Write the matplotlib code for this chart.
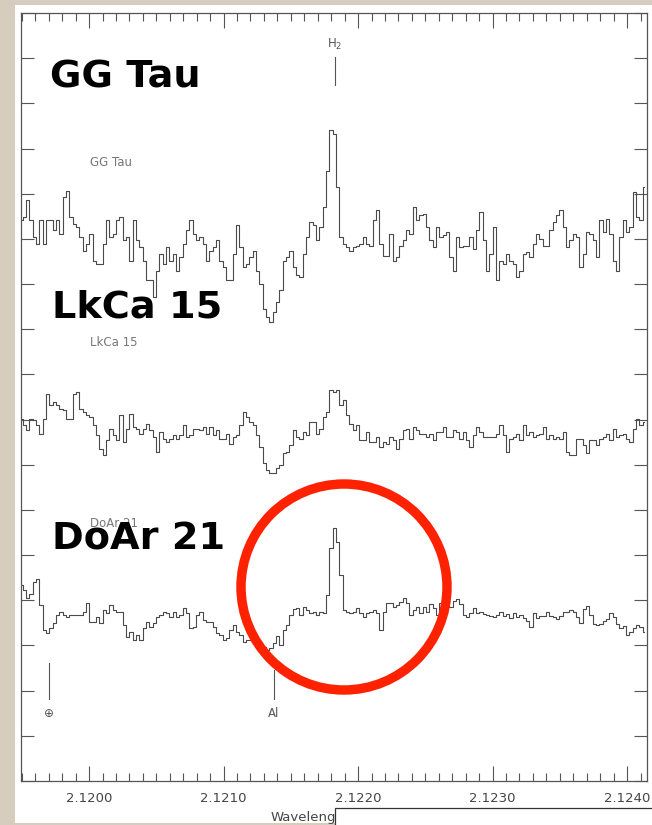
import numpy as np
import matplotlib.pyplot as plt
from matplotlib.patches import Rectangle, Ellipse
from matplotlib.ticker import MultipleLocator, FormatStrFormatter

# Offset spectra around the H2 1-0 S(1) line (flux + vertical offset)
wl_start, wl_end = 2.119494, 2.124128

gg_tau = [
    12.41, 12.48, 12.85, 12.41, 12.04, 11.89, 12.41, 11.89, 12.41, 12.41,
    12.19, 12.41, 12.11, 12.92, 13.07, 12.48, 12.33, 12.26, 12.04, 11.74,
    11.89, 12.11, 11.52, 11.45, 11.45, 11.89, 12.41, 12.04, 12.11, 12.41,
    12.48, 11.97, 12.04, 11.52, 12.41, 11.97, 11.82, 11.52, 11.08, 11.08,
    10.71, 11.30, 11.67, 11.45, 11.82, 11.52, 11.67, 11.30, 11.60, 11.89,
    12.19, 12.41, 12.11, 11.97, 12.04, 11.89, 11.52, 11.74, 11.82, 11.97,
    11.52, 11.38, 11.08, 11.08, 11.67, 12.30, 11.82, 11.38, 11.45, 11.60,
    11.74, 11.30, 11.01, 10.45, 10.27, 10.16, 10.38, 10.60, 10.86, 11.52,
    11.60, 11.74, 11.38, 11.19, 11.15, 11.67, 12.04, 12.37, 12.30, 11.97,
    12.26, 12.70, 13.51, 14.40, 14.33,
    13.15, 12.04, 11.89, 11.82, 11.74, 11.82, 11.85, 11.89, 12.04, 11.89,
    11.85, 12.41, 12.63, 11.89, 11.63, 11.63, 12.11, 11.52, 11.60, 11.85,
    11.97, 12.19, 12.11, 12.70, 12.41, 12.52, 12.56, 12.26, 11.97, 11.82,
    12.26, 12.04, 12.08, 12.15, 11.60, 11.30, 12.04, 11.82, 11.85, 11.85,
    12.04, 11.78, 12.19, 12.59, 11.97, 11.30, 11.67, 12.26, 11.08, 11.52,
    11.45, 11.67, 11.52, 11.45, 11.15, 11.30, 11.67, 11.71, 11.60, 11.89,
    12.11, 12.00, 11.85, 11.85, 12.19, 12.37, 12.52, 12.63, 12.26, 11.82,
    11.97, 12.11, 12.04, 11.38, 11.67, 12.15, 12.11, 11.97, 11.60, 12.41,
    12.15, 12.44, 12.11, 11.52, 11.30, 12.04, 12.41, 12.15, 12.26, 13.03,
    12.48, 12.41, 13.15,
]

lkca_15 = [
    8.02, 7.87, 7.76, 8.02, 7.98, 7.87, 7.69, 8.02, 8.57, 8.32,
    8.39, 8.32, 8.24, 8.21, 8.02, 8.02, 8.57, 8.61, 8.24, 8.17,
    8.10, 8.06, 7.87, 7.65, 7.36, 7.21, 7.54, 7.80, 7.65, 7.54,
    8.10, 7.51, 7.80, 8.13, 7.84, 7.80, 7.69, 7.80, 7.91, 7.76,
    7.62, 7.28, 7.73, 7.58, 7.51, 7.58, 7.65, 7.58, 7.65, 7.87,
    7.62, 7.65, 7.80, 7.80, 7.76, 7.84, 7.69, 7.84, 7.65, 7.76,
    7.58, 7.58, 7.69, 7.47, 7.62, 7.65, 7.87, 8.17, 8.06, 7.95,
    7.87, 7.65, 7.39, 7.03, 6.88, 6.81, 6.81, 6.92, 6.99, 7.25,
    7.28, 7.43, 7.76, 7.62, 7.58, 7.73, 7.65, 7.95, 7.95, 7.69,
    7.80, 8.06, 8.17, 8.65, 8.61, 8.65, 8.32, 8.43, 8.10, 7.91,
    7.76, 7.87, 7.54, 7.54, 7.73, 7.51, 7.51, 7.62, 7.39, 7.51,
    7.47, 7.62, 7.54, 7.36, 7.58, 7.76, 7.80, 7.58, 7.84, 7.76,
    7.69, 7.69, 7.62, 7.69, 7.54, 7.73, 7.73, 7.84, 7.62, 7.62,
    7.76, 7.73, 7.58, 7.73, 7.54, 7.39, 7.65, 7.84, 7.73, 7.62,
    7.62, 7.62, 7.62, 7.69, 7.87, 7.65, 7.28, 7.58, 7.62, 7.69,
    7.54, 7.87, 7.65, 7.73, 7.62, 7.65, 7.69, 7.84, 7.58, 7.65,
    7.58, 7.62, 7.58, 7.73, 7.28, 7.21, 7.21, 7.58, 7.58, 7.43,
    7.25, 7.54, 7.54, 7.43, 7.58, 7.62, 7.69, 7.54, 7.80, 7.62,
    7.65, 7.69, 7.58, 7.51, 7.80, 8.02, 7.87, 7.95,
]

doar_21 = [
    4.34, 4.23, 4.04, 4.15, 4.41, 4.48, 3.89, 3.34, 3.27, 3.38,
    3.49, 3.67, 3.75, 3.67, 3.64, 3.67, 3.67, 3.67, 3.67, 3.75,
    3.93, 3.53, 3.53, 3.64, 3.49, 3.78, 3.71, 3.89, 3.78, 3.75,
    3.75, 3.45, 3.19, 3.30, 3.12, 3.23, 3.12, 3.38, 3.53, 3.41,
    3.49, 3.64, 3.67, 3.75, 3.71, 3.64, 3.75, 3.64, 3.67, 3.82,
    3.71, 3.38, 3.41, 3.67, 3.75, 3.56, 3.53, 3.53, 3.41, 3.27,
    3.23, 3.12, 3.16, 3.34, 3.45, 3.30, 3.24, 3.08, 3.12, 3.12,
    3.05, 3.16, 3.01, 2.97, 2.90, 2.95, 3.05, 3.22, 3.01, 3.34,
    3.45, 3.67, 3.81, 3.83, 3.67, 3.86, 3.78, 3.71, 3.75, 3.67,
    3.73, 3.71, 4.12, 5.15, 5.60, 5.30, 4.56, 3.78, 3.75, 3.71,
    3.75, 3.82, 3.71, 3.64, 3.71, 3.75, 3.78, 3.71, 3.34, 3.75,
    3.93, 3.93, 3.86, 3.89, 3.97, 4.04, 3.93, 3.67, 3.78, 3.86,
    3.71, 3.86, 3.75, 3.91, 3.82, 3.67, 3.93, 3.82, 3.89, 3.86,
    3.98, 4.03, 3.91, 3.67, 3.64, 3.71, 3.82, 3.71, 3.75, 3.69,
    3.67, 3.66, 3.64, 3.67, 3.75, 3.66, 3.69, 3.60, 3.71, 3.64,
    3.67, 3.61, 3.54, 3.41, 3.71, 3.60, 3.65, 3.66, 3.75, 3.65,
    3.64, 3.58, 3.66, 3.75, 3.75, 3.78, 3.75, 3.64, 3.49, 3.81,
    3.88, 3.67, 3.47, 3.45, 3.47, 3.54, 3.58, 3.71, 3.64, 3.47,
    3.39, 3.44, 3.23, 3.29, 3.38, 3.45, 3.41, 3.30,
]

star_names = ['GG Tau', 'LkCa 15', 'DoAr 21']
name_y = [13.69, 9.71, 5.71]

# line identifications: label, wavelength, tick bottom/top, label height
line_labels = ['H$_2$', '\u2295', 'Al']
line_wl = [2.121829, 2.119703, 2.121375]
line_y0 = [15.40, 1.81, 1.81]
line_y1 = [16.02, 2.61, 2.46]
label_y = [16.30, 1.50, 1.50]

fig = plt.figure(figsize=(6.52, 8.25), dpi=100)
fig.patch.set_facecolor('#d6cdbf')

# white page behind the plot
fig.add_artist(Rectangle((15 / 652, 2 / 825), 1.0, 818 / 825, transform=fig.transFigure,
                         facecolor='white', edgecolor='none', zorder=-1))

ax = fig.add_axes([21 / 652, 44 / 825, 625.7 / 652, 768 / 825])
ax.set_facecolor('white')

for flux in (gg_tau, lkca_15, doar_21):
    wl = np.linspace(wl_start, wl_end, len(flux))
    ax.step(wl, flux, where='mid', color='#4a4a4a', lw=0.8)

for name, y in zip(star_names, name_y):
    ax.text(2.120007, y, name, fontsize=8.5, color='#777777', va='center', ha='left')

for lab, w, y0, y1, ly in zip(line_labels, line_wl, line_y0, line_y1, label_y):
    ax.plot([w, w], [y0, y1], color='#555555', lw=0.8)
    ax.text(w, ly, lab, fontsize=8.5, color='#555555', ha='center', va='center')

ax.set_xlim(2.119494, 2.124146)
ax.set_ylim(0, 17)
ax.xaxis.set_major_locator(MultipleLocator(0.001))
ax.xaxis.set_minor_locator(MultipleLocator(0.0001))
ax.xaxis.set_major_formatter(FormatStrFormatter('%.4f'))
ax.yaxis.set_major_locator(MultipleLocator(1))
ax.set_yticklabels([])
ax.tick_params(axis='x', which='major', direction='in', length=11, width=0.8,
               top=True, color='#555555', labelsize=9.5, labelcolor='#444444', pad=8)
ax.tick_params(axis='x', which='minor', direction='in', length=6, width=0.8,
               top=True, color='#555555')
ax.tick_params(axis='y', which='major', direction='in', length=9.5, width=0.8,
               right=True, color='#555555')
for sp in ax.spines.values():
    sp.set_color('#555555')
    sp.set_linewidth(0.9)

# slide annotations
big = dict(fontsize=27.5, fontweight='bold', color='black', family='DejaVu Sans',
           va='baseline', ha='left', zorder=4)
fig.text(50 / 652, 1 - 88 / 825, 'GG Tau', **big)
fig.text(52 / 652, 1 - 317 / 825, 'LkCa 15', **big)
fig.text(52 / 652, 1 - 550 / 825, 'DoAr 21', **big)

fig.add_artist(Ellipse((344 / 652, 1 - 587 / 825), 206 / 652, 206 / 825,
                       transform=fig.transFigure, facecolor='none',
                       edgecolor='#ff2200', lw=6.8, zorder=5))

fig.text(271 / 652, 1 - 817 / 825, 'Wavelength', fontsize=9.5, color='#444444',
         va='center', ha='left', zorder=3)
fig.add_artist(Rectangle((335 / 652, -0.01), 0.5, 0.01 + 17 / 825, transform=fig.transFigure,
                         facecolor='white', edgecolor='#333333', lw=0.9, zorder=6))

fig.savefig('out.png', dpi=100, facecolor=fig.get_facecolor())
